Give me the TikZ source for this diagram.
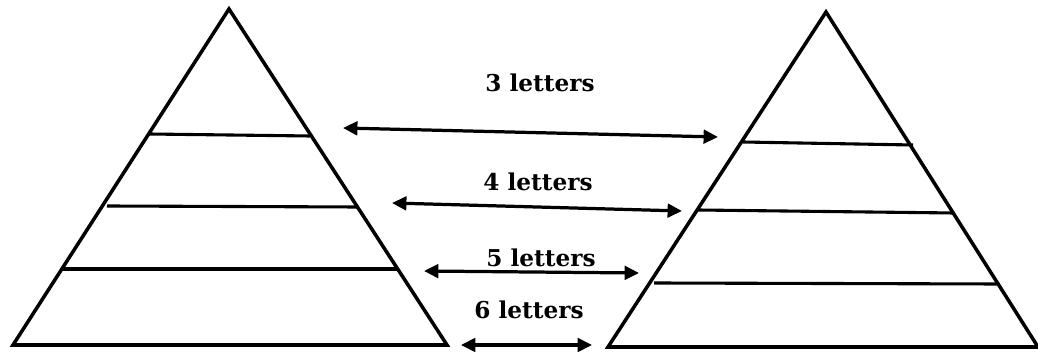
\documentclass[tikz,border=0pt]{standalone}
\usepackage{fontspec}
\setmainfont{DejaVu Serif}
\usetikzlibrary{arrows.meta}

\tikzstyle{layer} = [line width=2.2pt]
\tikzstyle{pyramid} = [line width=2.5pt, line join=miter]
\tikzstyle{label} = [font=\fontsize{16.5}{18}\selectfont\bfseries, inner sep=0pt]
\tikzstyle{link} = [line width=2.3pt, {Triangle[length=0.36cm, width=0.34cm]}-{Triangle[length=0.36cm, width=0.34cm]}]

\begin{document}
\begin{tikzpicture}[x=0.025cm, y=-0.025cm]

\useasboundingbox (0,0) rectangle (1038,352);

% left pyramid
\coordinate (ltop) at (229,9);
\coordinate (lbl) at (13,345);
\coordinate (lbr) at (447,345);
\draw [pyramid] (ltop) -- (lbr) -- (lbl) -- cycle;
\draw [layer] (149,134) -- (310,136);
\draw [layer] (107,206) -- (358,207);
\draw [layer] (62,269) -- (398,269);

% right pyramid
\coordinate (rtop) at (826,12);
\coordinate (rbl) at (608,347);
\coordinate (rbr) at (1038,347);
\draw [pyramid] (rtop) -- (rbr) -- (rbl) -- cycle;
\draw [layer] (743,142) -- (913,145);
\draw [layer] (698,210) -- (954,213);
\draw [layer] (654,283) -- (999,284);

% arrows
\coordinate (a3l) at (343,128);
\coordinate (a3r) at (718,137);
\coordinate (a4l) at (392,203);
\coordinate (a4r) at (682,211);
\coordinate (a5l) at (424,271);
\coordinate (a5r) at (639,273);
\coordinate (a6l) at (461,345);
\coordinate (a6r) at (592,345);

\draw [link] (a3l) -- (a3r);
\draw [link] (a4l) -- (a4r);
\draw [link] (a5l) -- (a5r);
\draw [link] (a6l) -- (a6r);

\node [label] (three) at (540,83) {3 letters};
\node [label] (four) at (538,182) {4 letters};
\node [label] (five) at (541,258) {5 letters};
\node [label] (six) at (529,310) {6 letters};

\end{tikzpicture}
\end{document}
